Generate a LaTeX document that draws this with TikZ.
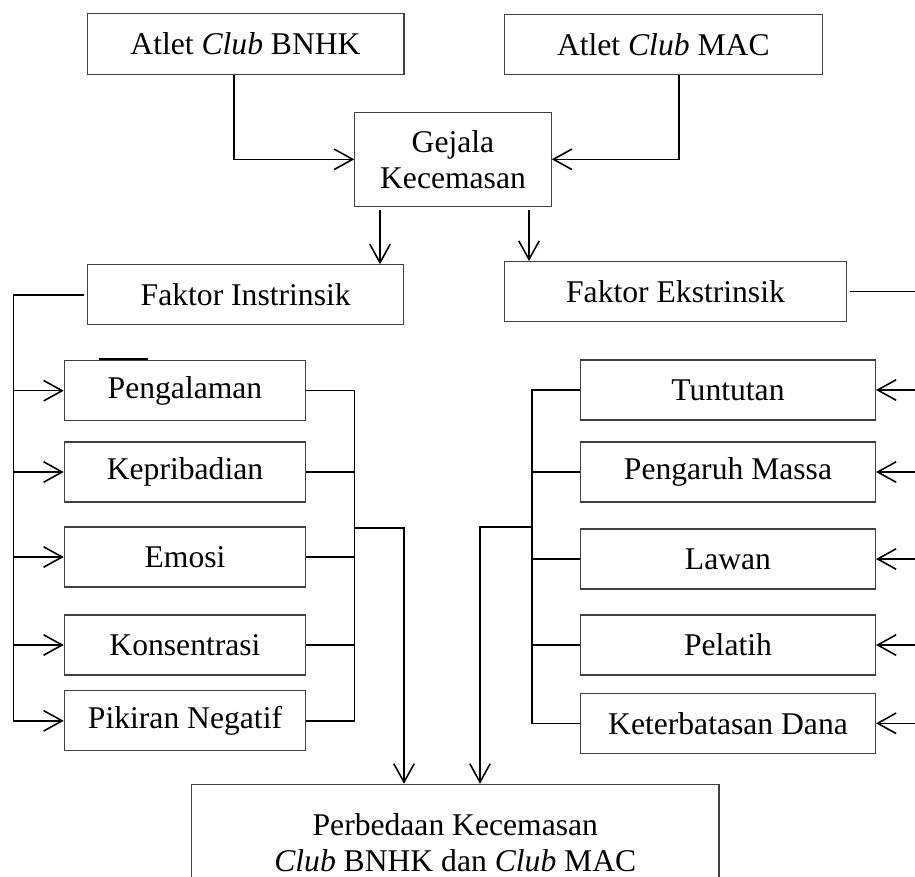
\documentclass[tikz,border=0pt]{standalone}
\usepackage{fontspec}
\setmainfont{Liberation Serif}
\usepackage{tikz}
\usetikzlibrary{arrows.meta,calc}

\begin{document}
\begin{tikzpicture}[x=0.02cm, y=-0.02cm,
    font=\fontsize{18}{20.5}\selectfont,
    block/.style={rectangle, draw=black!75, line width=0.6pt, inner sep=0pt, align=center, minimum height=1.2cm},
    link/.style={line width=0.9pt},
    >={Straight Barb[length=3.7mm,width=4.1mm]}]
    \useasboundingbox (0,0) rectangle (915,876);
    \node[block, minimum width=6.34cm, minimum height=1.22cm] (bnhk) at (245.5,43.7) {Atlet \textit{Club} BNHK};
    \node[block, minimum width=6.35cm] (mac) at (663.3,44.7) {Atlet \textit{Club} MAC};
    \node[block, minimum width=3.93cm, minimum height=1.87cm] (gejala) at (453,159.3) {Gejala\\Kecemasan};
    \node[block, minimum width=6.33cm] (intr) at (245.7,294.8) {Faktor Instrinsik};
    \node[block, minimum width=6.85cm] (ekstr) at (675.5,291.5) {Faktor Ekstrinsik};
    \node[block, minimum width=4.83cm] (pengalaman) at (185,390.7) {Pengalaman};
    \node[block, minimum width=4.83cm] (kepribadian) at (185,472) {Kepribadian};
    \node[block, minimum width=4.83cm] (emosi) at (185,557) {Emosi};
    \node[block, minimum width=4.83cm] (konsentrasi) at (185,645) {Konsentrasi};
    \node[block, minimum width=4.83cm] (pikiran) at (185,720.8) {Pikiran Negatif};
    \node[block, minimum width=5.9cm] (tuntutan) at (728,390) {Tuntutan};
    \node[block, minimum width=5.9cm] (massa) at (728,472) {Pengaruh Massa};
    \node[block, minimum width=5.9cm] (lawan) at (728,559) {Lawan};
    \node[block, minimum width=5.9cm] (pelatih) at (728,645) {Pelatih};
    \node[block, minimum width=5.9cm] (dana) at (728,723.3) {Keterbatasan Dana};
    \node[block, minimum width=10.55cm, minimum height=2.32cm] (hasil) at (455.3,842.3) {Perbedaan Kecemasan\\\textit{Club} BNHK dan \textit{Club} MAC};

    \draw[link,->] (bnhk.south) ++(-11.5,0) |- (gejala.west);
    \draw[link,->] (mac.south) ++(15.4,0) |- (gejala.east);
    \draw[link,->] (gejala.south) ++(-73,3) coordinate (gi) -- (gi |- intr.north);
    \draw[link,->] (gejala.south) ++(76,3) coordinate (ge) -- (ge |- ekstr.north);

    \coordinate (ltop) at (13.3,0);
    \draw[link] (intr.west) ++(-3,0) -- (ltop |- intr.west) -- (ltop |- pikiran.west);
    \draw[link,->] (ltop |- pengalaman.west) -- (pengalaman.west);
    \draw[link,->] (ltop |- kepribadian.west) -- (kepribadian.west);
    \draw[link,->] (ltop |- emosi.west) -- (emosi.west);
    \draw[link,->] (ltop |- konsentrasi.west) -- (konsentrasi.west);
    \draw[link,->] (ltop |- pikiran.west) -- (pikiran.west);
    \draw[line width=1.3pt] (pengalaman.north west) ++(35.7,-1.4) -- ++(48.7,0);

    \coordinate (rtop) at (918,0);
    \draw[link] (ekstr.east) ++(2.3,0) -- (rtop |- ekstr.east) -- (rtop |- dana.east);
    \draw[link,->] (rtop |- tuntutan.east) -- (tuntutan.east);
    \draw[link,->] (rtop |- massa.east) -- (massa.east);
    \draw[link,->] (rtop |- lawan.east) -- (lawan.east);
    \draw[link,->] (rtop |- pelatih.east) -- (pelatih.east);
    \draw[link,->] (rtop |- dana.east) -- (dana.east);

    \coordinate (lcol) at (354.7,528);
    \coordinate (ldown) at (404,528);
    \draw[link] (pengalaman.east) -- (lcol |- pengalaman.east) -- (lcol |- pikiran.east) -- (pikiran.east);
    \draw[link] (kepribadian.east) -- (lcol |- kepribadian.east);
    \draw[link] (emosi.east) -- (lcol |- emosi.east);
    \draw[link] (konsentrasi.east) -- (lcol |- konsentrasi.east);
    \draw[link,->] (lcol) -- (ldown) -- (ldown |- hasil.north);

    \coordinate (rcol) at (531.7,527);
    \coordinate (rdown) at (480,527);
    \draw[link] (tuntutan.west) -- (rcol |- tuntutan.west) -- (rcol |- dana.west) -- (dana.west);
    \draw[link] (massa.west) -- (rcol |- massa.west);
    \draw[link] (lawan.west) -- (rcol |- lawan.west);
    \draw[link] (pelatih.west) -- (rcol |- pelatih.west);
    \draw[link,->] (rcol) -- (rdown) -- (rdown |- hasil.north);
\end{tikzpicture}
\end{document}
